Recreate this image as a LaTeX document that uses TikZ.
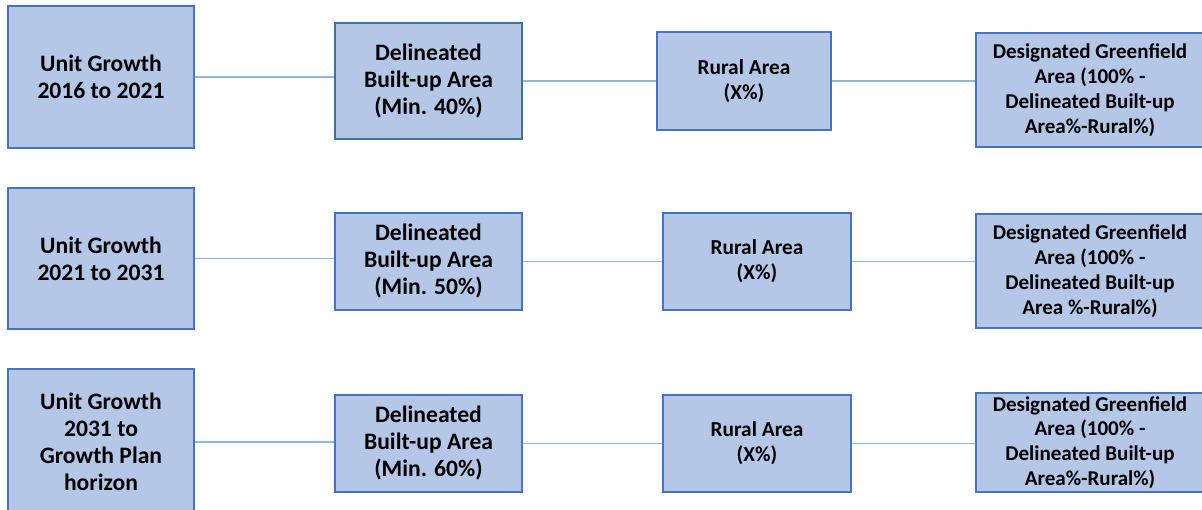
\documentclass[tikz,border=0pt]{standalone}
\usepackage{fontspec}
\setmainfont{Carlito}
\definecolor{boxfill}{HTML}{B4C7E7}
\definecolor{boxedge}{HTML}{4472C4}
\definecolor{boxedgedark}{HTML}{41719C}
\definecolor{linkblue}{HTML}{8FB7E4}
\begin{document}
\begin{tikzpicture}[x=0.75pt,y=-0.75pt,
  box/.style={draw=boxedge, fill=boxfill, line width=1.6pt, inner sep=0pt,
    align=center, font=\bfseries\fontsize{17.7}{20.25}\selectfont},
  smallbox/.style={box, font=\bfseries\fontsize{16}{18.75}\selectfont},
  greenbox/.style={box, font=\bfseries\fontsize{15.8}{18.6}\selectfont},
  link/.style={draw=linkblue, line width=1.2pt}]
\useasboundingbox (0,0) rectangle (1202,510);

% Row 1
\node[box, minimum width=139.5pt, minimum height=106.5pt] (u1) at (101,77)
  {Unit Growth\\2016 to 2021};
\node[box, draw=boxedgedark, minimum width=140.25pt, minimum height=87pt] (d1) at (428.5,81)
  {Delineated\\Built-up Area\\(Min. 40\%)};
\node[smallbox, minimum width=130.5pt, minimum height=73.5pt] (r1) at (744,81)
  {Rural Area\\(X\%)};
\node[greenbox, minimum width=171pt, minimum height=85.5pt] (g1) at (1090,90)
  {Designated Greenfield\\Area (100\% -\\Delineated Built-up\\Area\%-Rural\%)};

% Row 2
\node[box, minimum width=139.5pt, minimum height=105.75pt] (u2) at (101,258.5)
  {Unit Growth\\2021 to 2031};
\node[box, minimum width=140.25pt, minimum height=72.75pt] (d2) at (428.5,261.5)
  {Delineated\\Built-up Area\\(Min. 50\%)};
\node[smallbox, minimum width=141pt, minimum height=72.75pt] (r2) at (757,261.5)
  {Rural Area\\(X\%)};
\node[greenbox, minimum width=171pt, minimum height=85.5pt] (g2) at (1090,271)
  {Designated Greenfield\\Area (100\% -\\Delineated Built-up\\Area \%-Rural\%)};

% Row 3
\node[box, minimum width=139.5pt, minimum height=109.5pt] (u3) at (101,442)
  {Unit Growth\\2031 to\\Growth Plan\\horizon};
\node[box, minimum width=140.25pt, minimum height=72.75pt] (d3) at (428.5,443.5)
  {Delineated\\Built-up Area\\(Min. 60\%)};
\node[smallbox, minimum width=141pt, minimum height=72.75pt] (r3) at (757,443.5)
  {Rural Area\\(X\%)};
\node[greenbox, minimum width=171pt, minimum height=74.25pt] (g3) at (1090,442.5)
  {Designated Greenfield\\Area (100\% -\\Delineated Built-up\\Area\%-Rural\%)};

% Connectors
\foreach \a/\b in {u1/d1,d1/r1,r1/g1,u2/d2,d2/r2,r2/g2,u3/d3,d3/r3,r3/g3}
  \draw[link] (\a.east) -- (\a.east -| \b.west);
\end{tikzpicture}
\end{document}
